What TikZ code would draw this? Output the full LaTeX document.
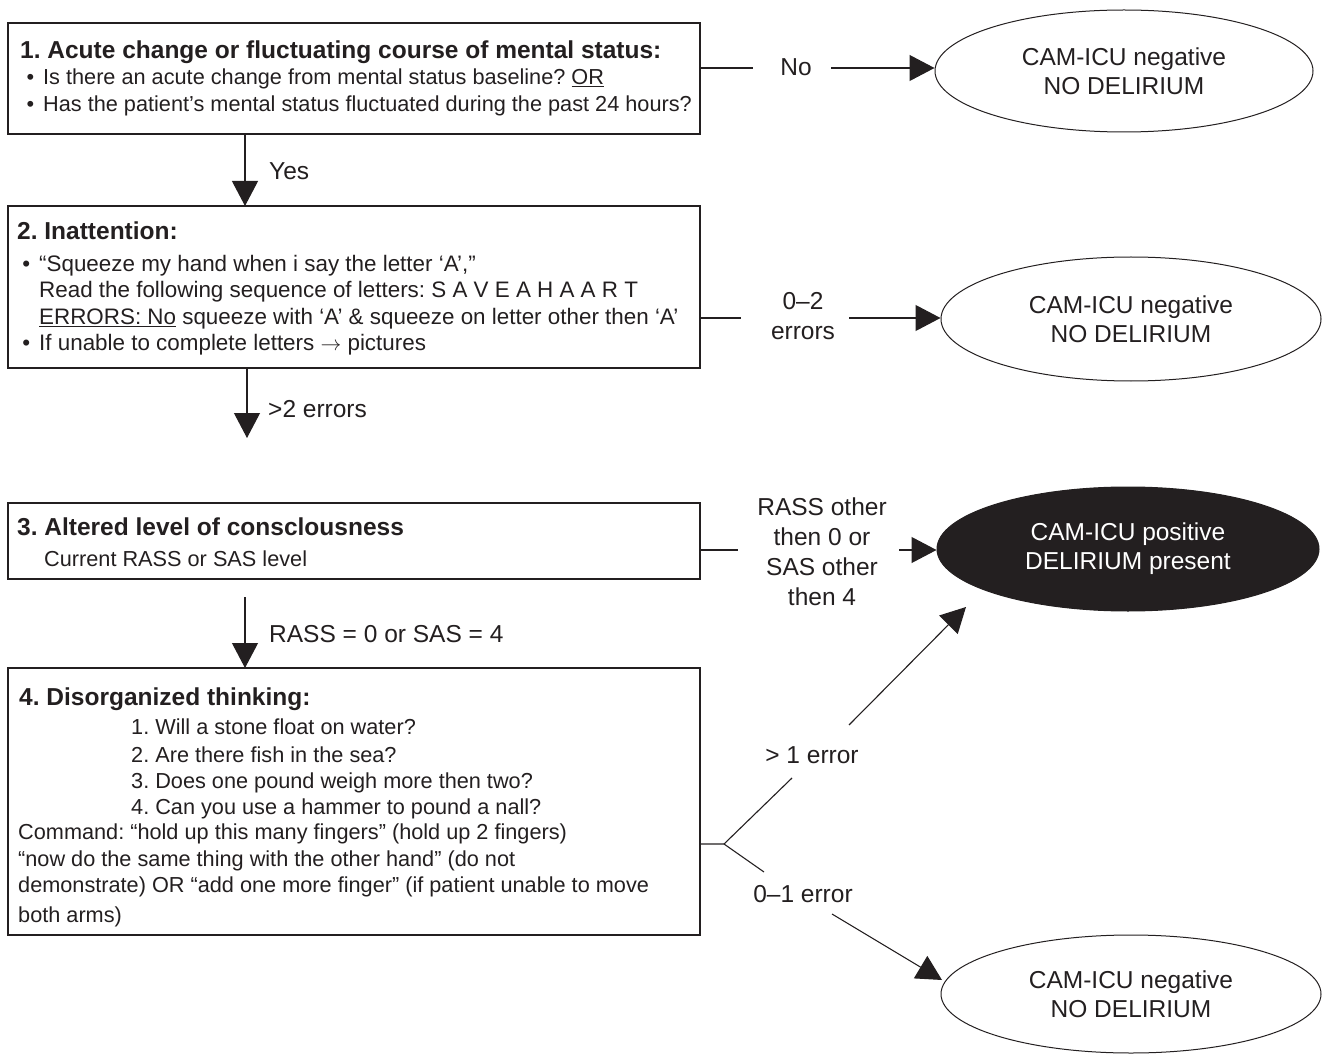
\documentclass[tikz,border=0pt]{standalone}
\usepackage{fontspec}
\setmainfont{Liberation Sans}
\usetikzlibrary{arrows.meta,shapes.geometric,calc}
\definecolor{ink}{RGB}{35,31,32}
\newcommand{\mybul}{\llap{•\hspace{9pt}}}
\frenchspacing
\begin{document}
\begin{tikzpicture}[x=1pt,y=-1pt,
  box/.style={draw=ink,line width=1.3pt,inner sep=0pt,outer sep=0pt,anchor=north west,minimum width=692pt},
  ttl/.style={anchor=base west,inner sep=0pt,text=ink,font=\fontsize{24.5}{29}\selectfont\bfseries},
  txt/.style={anchor=base west,inner sep=0pt,text=ink,font=\fontsize{21.7}{26}\selectfont},
  txtb/.style={txt,font=\fontsize{22.4}{26}\selectfont},
  lbl/.style={anchor=base,inner sep=0pt,text=ink,font=\fontsize{24.5}{29}\selectfont},
  ell/.style={ellipse,draw=ink,line width=1pt,inner sep=0pt,align=center,text=ink,font=\fontsize{24.5}{29}\selectfont},
  ln/.style={draw=ink,line width=1.1pt},
  arr/.style={-{Triangle[length=25pt,width=26pt]}}]
\useasboundingbox (0,0) rectangle (1322,1056);

% boxes
\node[box,minimum height=111pt] (b1) at (8,23) {};
\node[box,minimum height=162pt] (b2) at (8,206) {};
\node[box,minimum height=76pt] (b3) at (8,503) {};
\node[box,minimum height=267pt] (b4) at (8,668) {};

% box 1 text
\node[ttl] (t1) at (20,59) {1. Acute change or fluctuating course of mental status:};
\node[txt] (t1a) at (43,85) {\mybul Is there an acute change from mental status baseline? \underline{OR}};
\node[txt] (t1b) at (43,112) {\mybul Has the patient’s mental status fluctuated during the past 24 hours?};

% box 2 text
\node[ttl] (t2) at (17,240) {2. Inattention:};
\node[txtb] (t2a) at (39,272) {\mybul “Squeeze my hand when i say the letter ‘A’,”};
\node[txtb] (t2b) at (39,298) {Read the following sequence of letters: S A V E A H A A R T};
\node[txtb] (t2c) at (39,325) {\underline{ERRORS: No} squeeze with ‘A’ \& squeeze on letter other then ‘A’};
\node[txtb] (t2d) at (39,351) {\mybul If unable to complete letters $\rightarrow$ pictures};

% box 3 text
\node[ttl] (t3) at (17,535) {3. Altered level of consclousness};
\node[txt] (t3a) at (44,566) {Current RASS or SAS level};

% box 4 text
\node[ttl] (t4) at (19,705) {4. Disorganized thinking:};
\node[txt] (q1) at (131,734) {1. Will a stone float on water?};
\node[txt] (q2) at (131,762) {2. Are there fish in the sea?};
\node[txt] (q3) at (131,788) {3. Does one pound weigh more then two?};
\node[txt] (q4) at (131,814) {4. Can you use a hammer to pound a nall?};
\node[txt] (c1) at (18,839) {Command: “hold up this many fingers” (hold up 2 fingers)};
\node[txt] (c2) at (18,866) {“now do the same thing with the other hand” (do not};
\node[txt] (c3) at (18,892) {demonstrate) OR “add one more finger” (if patient unable to move};
\node[txt] (c4) at (18,922) {both arms)};

% ellipses
\node[ell,minimum width=378pt,minimum height=122pt] (e1) at (1124,71) {CAM-ICU negative\\NO DELIRIUM};
\node[ell,minimum width=380pt,minimum height=124pt] (e2) at (1131,319) {CAM-ICU negative\\NO DELIRIUM};
\node[ell,fill=ink,text=white,minimum width=382pt,minimum height=124pt] (e3) at (1128,549) {CAM-ICU positive\\DELIRIUM present};
\node[ell,minimum width=380pt,minimum height=118pt] (e4) at (1131,994) {CAM-ICU negative\\NO DELIRIUM};

% box 1 -> No
\coordinate (n1) at (753,68);
\coordinate (n2) at (831,68);
\draw[ln] (b1.east |- n1) -- (n1);
\draw[ln,arr] (n2) -- (n2 -| e1.west);
\node[lbl] (lno) at (796,76) {No};

% box 1 -> box 2
\draw[ln,arr] ($(b1.south west)+(237,0)$) -- ($(b2.north west)+(237,0)$);
\node[lbl,anchor=base west] (lyes) at (269,180) {Yes};

% box 2 -> e2
\coordinate (m1) at (741,318);
\coordinate (m2) at (849,318);
\draw[ln] (b2.east |- m1) -- (m1);
\draw[ln,arr] (m2) -- (m2 -| e2.west);
\node[lbl] (l02a) at (803,310) {0–2};
\node[lbl] (l02b) at (803,340) {errors};

% box 2 down
\coordinate (d2) at (247,438);
\draw[ln,arr] ($(b2.south west)+(239,0)$) -- (d2);
\node[lbl,anchor=base west] (lgt2) at (268,417) {>2 errors};

% box 3 -> e3
\coordinate (r1) at (738,550);
\coordinate (r2) at (899,550);
\draw[ln] (b3.east |- r1) -- (r1);
\draw[ln,arr] (r2) -- (r2 -| e3.west);
\node[lbl] (lr1) at (822,515) {RASS other};
\node[lbl] (lr2) at (822,545) {then 0 or};
\node[lbl] (lr3) at (822,575) {SAS other};
\node[lbl] (lr4) at (822,605) {then 4};

% box 3 -> box 4
\coordinate (d3) at (245,597);
\draw[ln,arr] (d3) -- (d3 |- b4.north);
\node[lbl,anchor=base west] (lrass) at (269,642) {RASS = 0 or SAS = 4};

% box 4 branch
\coordinate (fork) at (724,844);
\coordinate (u1) at (792,778);
\coordinate (u2) at (849,725);
\coordinate (u3) at (966,607);
\coordinate (w1) at (764,872);
\coordinate (w2) at (832,914);
\coordinate (w3) at (942,980);
\draw[ln] (b4.east |- fork) -- (fork) -- (u1);
\draw[ln,arr] (u2) -- (u3);
\draw[ln] (fork) -- (w1);
\draw[ln,arr] (w2) -- (w3);
\node[lbl] (lgt1) at (812,763) {> 1 error};
\node[lbl] (l01) at (803,902) {0–1 error};
\end{tikzpicture}
\end{document}
